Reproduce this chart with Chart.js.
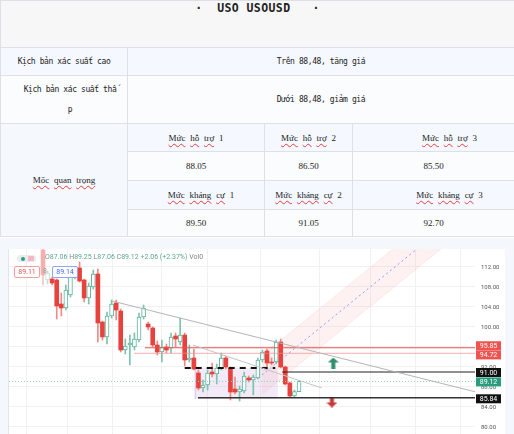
<!DOCTYPE html>
<html>
<head>
<meta charset="utf-8">
<script src="https://cdn.jsdelivr.net/npm/chart.js@4.4.1/dist/chart.umd.min.js"></script>
<style>
  html, body { margin: 0; padding: 0; width: 514px; height: 434px; overflow: hidden; background: #fff; }
  table.info { position: absolute; left: 0; top: 0; width: 514px; border-collapse: collapse; table-layout: fixed; }
  table.info td { border: 1px solid #dde1e6; padding: 0; text-align: center; color: #222; }
  .mono { font-family: "DejaVu Sans Mono", monospace; font-size: 8px; letter-spacing: -0.4px; }
  .serif { font-family: "Liberation Serif", serif; font-size: 9px; word-spacing: 2.5px; color: #333; }
  td.title { background: #f7f7f7; height: 46px; vertical-align: top; padding-top: 9px; font-family: "DejaVu Sans Mono", monospace; font-weight: bold; font-size: 11.5px; letter-spacing: 0.4px; white-space: pre; border-top: 2px solid #e6e6e6; }
  tr.blue td { background: #f5f9ff; }
  tr.pale td { background: #fbfcfe; }
  .sq { text-decoration: underline wavy #e03b3b; text-decoration-thickness: 1px; text-underline-offset: 2px; }
  #frame { position: absolute; left: 0; top: 238px; width: 514px; height: 196px; background: #f4f8fc; }
  #panel { position: absolute; left: 8px; top: 249px; width: 496px; height: 185px; background: #fff; border-left: 1px solid #e3e7ec; }
  #wrap { position: absolute; left: 9px; top: 249px; width: 495px; height: 185px; }
  .ov { position: absolute; font-family: Roboto, sans-serif; font-size: 7px; white-space: pre; }
  .pbox { position: absolute; height: 10px; line-height: 10px; font-family: Roboto, sans-serif; font-size: 7px; text-align: center; background: rgba(255,255,255,0.85); border-radius: 2px; }
</style>
</head>
<body>
<table class="info">
  <colgroup><col style="width:127px"><col style="width:137px"><col style="width:88px"><col style="width:162px"></colgroup>
  <tr><td colspan="4" class="title">·  USO USOUSD   ·</td></tr>
  <tr class="blue" style="height:28px"><td class="mono">Kịch bản xác suất cao</td><td colspan="3" class="mono">Trên 88,48, tăng giá</td></tr>
  <tr class="pale" style="height:48px"><td class="mono" style="line-height:20px;padding-left:12px">Kịch bản xác suất thấ<br>p</td><td colspan="3" class="mono">Dưới 88,48, giảm giá</td></tr>
  <tr class="blue" style="height:28px">
    <td rowspan="4" class="serif" style="background:#f5f9fe"><span class="sq">Mốc</span> <span class="sq">quan</span> <span class="sq">trọng</span></td>
    <td class="serif"><span class="sq">Mức</span> <span class="sq">hỗ</span> <span class="sq">trợ</span> 1</td>
    <td class="serif"><span class="sq">Mức</span> <span class="sq">hỗ</span> <span class="sq">trợ</span> 2</td>
    <td class="serif" style="padding-left:32px"><span class="sq">Mức</span> <span class="sq">hỗ</span> <span class="sq">trợ</span> 3</td>
  </tr>
  <tr class="pale" style="height:29px"><td class="serif">88.05</td><td class="serif">86.50</td><td class="serif">85.50</td></tr>
  <tr class="blue" style="height:29px">
    <td class="serif" style="padding-left:10px"><span class="sq">Mức</span> <span class="sq">kháng</span> <span class="sq">cự</span> 1</td>
    <td class="serif"><span class="sq">Mức</span> <span class="sq">kháng</span> <span class="sq">cự</span> 2</td>
    <td class="serif" style="padding-left:32px"><span class="sq">Mức</span> <span class="sq">kháng</span> <span class="sq">cự</span> 3</td>
  </tr>
  <tr class="pale" style="height:27px"><td class="serif">89.50</td><td class="serif">91.05</td><td class="serif">92.70</td></tr>
</table>

<div id="frame"></div>
<div id="panel"></div>
<div id="wrap"><canvas id="grafico"></canvas></div>

<!-- leyenda superior -->
<div class="ov" style="left:17px;top:255px;width:19px;height:7px;background:#e9ecef;border-radius:4px"></div>
<div class="ov" style="left:21px;top:257px;width:4px;height:4px;background:#2a9d7f;border-radius:2px"></div>
<div class="ov" style="left:28px;top:256px;width:6px;height:5px;background:#f5b8c4;border-radius:1px"></div>
<div class="ov" style="left:45px;top:253px;color:#5aa893"><span style="color:#7d8c88">O</span>87.06 <span style="color:#7d8c88">H</span>89.25 <span style="color:#7d8c88">L</span>87.06 <span style="color:#7d8c88">C</span>89.12 +2.06 (+2.37%) <span style="color:#888">Vol0</span></div>
<div class="pbox" style="left:14px;top:266px;width:24px;border:1px solid #f0a0a0;color:#e05555">89.11</div>
<div class="ov" style="left:43px;top:267px;color:#999">8</div>
<div class="pbox" style="left:52px;top:266px;width:24px;border:1px solid #8fa4f5;color:#4a68e8">89.14</div>

<script>
// velas (índice 0..56)
const opens  = [115.4,109.4,109.6,109.4,104.6,103.8,106.4,110.0,111.8,109.4,105.8,108.0,110.6,101.0,98.0,102.2,104.8,103.2,95.4,96.4,96.0,97.4,102.0,100.6,99.8,96.4,95.0,96.0,95.8,98.2,97.0,98.4,93.4,93.8,90.8,87.8,88.4,91.0,90.6,91.8,93.8,91.8,87.6,87.0,87.2,89.8,89.4,89.8,93.4,95.2,93.0,93.0,97.0,92.0,88.8,86.2,87.06];
const highs  = [115.8,111.2,110.0,109.6,106.8,108.4,110.4,112.0,113.0,109.6,108.8,111.4,111.6,101.2,103.0,105.4,105.4,103.6,97.6,98.4,98.8,102.8,104.4,101.0,100.0,97.2,97.4,96.6,98.8,98.8,101.8,98.8,96.4,95.6,91.4,89.4,91.4,92.8,92.6,94.8,94.2,92.0,90.0,88.2,91.0,90.2,90.4,93.8,95.4,95.6,93.8,97.4,97.6,92.2,89.0,87.4,89.25];
const lows   = [108.4,108.6,108.4,101.6,102.2,103.4,106.0,109.6,109.0,105.0,104.6,107.6,97.0,97.4,96.6,101.8,101.4,95.0,94.6,92.4,95.4,97.0,101.6,99.4,96.0,94.4,93.0,94.8,94.8,96.0,96.4,92.2,93.0,91.4,87.4,87.0,87.4,90.0,88.6,91.4,91.6,85.4,86.6,85.2,86.8,89.0,86.4,89.6,93.0,92.0,92.4,92.6,91.8,88.4,86.0,86.0,87.06];
const closes = [110.4,110.8,108.8,104.2,103.8,107.4,110.0,111.4,109.2,105.8,108.2,110.6,100.8,98.0,102.2,104.6,103.4,95.4,96.2,96.8,97.6,102.0,103.8,100.0,96.4,95.0,96.0,95.4,98.0,97.6,98.4,93.4,93.8,91.6,87.8,88.4,90.8,90.6,91.8,93.8,92.0,87.0,87.0,87.6,90.2,89.4,90.0,93.4,95.0,92.8,92.8,97.0,92.0,88.6,86.2,87.06,89.12];

const yTicks = [80, 84, 88, 92, 96, 100, 104, 108, 112];
const xGrid = [0.9, 9.8, 20.8, 31.1, 40.9, 54.3, 66.5, 76.6, 86.4];

// niveles horizontales: precio e índice donde empiezan
const levelPrices = [95.85, 94.72, 91.00, 85.84];
const levelStarts = [22.3, 19.9, 52.3, 33.9];
const lastPrice = 89.12;
const dashedLevel = [91.8, 31.0, 50.8];       // precio, desde, hasta
const trend1 = [[15.1, 105.2], [94.5, 87.05]];
const trend2 = [[32.8, 96.4], [61.0, 87.8]];
const channelMid = [[47.9, 90.4], [95, 125.4]];
const channelHalf = 3.9;
const zone = [33.3, 51.4, 85.6, 91.8];        // x0, x1, yLow, yHigh
const arrowUp = [63.5, 92.8];
const arrowDown = [63.2, 85.0];

// etiquetas del eje de precios
const axisLabels = ['95.85', '94.72', '91.00', '89.12', '85.84'];
const axisColors = ['#ef5350', '#ef5350', '#111111', '#2a9d7f', '#111111'];

const X_MIN = -7.44, X_MAX = 94.5;
const UP = '#5db39b', DOWN = '#e8423f';

const idx = opens.map((_, i) => i);
const isUp = i => closes[i] >= opens[i];

function flecha(color, up) {
  const c = document.createElement('canvas');
  c.width = 11; c.height = 11;
  const g = c.getContext('2d');
  g.fillStyle = color;
  g.beginPath();
  if (up) {
    g.moveTo(5.5, 0); g.lineTo(11, 5); g.lineTo(7.5, 5); g.lineTo(7.5, 11); g.lineTo(3.5, 11); g.lineTo(3.5, 5); g.lineTo(0, 5);
  } else {
    g.moveTo(3.5, 0); g.lineTo(7.5, 0); g.lineTo(7.5, 6); g.lineTo(11, 6); g.lineTo(5.5, 11); g.lineTo(0, 6); g.lineTo(3.5, 6);
  }
  g.closePath();
  g.fill();
  return c;
}

const seg = (pts) => pts.map(p => ({ x: p[0], y: p[1] }));
const lineDs = (data, color, width, dash, order) => ({
  type: 'line', data, borderColor: color, borderWidth: width, borderDash: dash || [],
  pointRadius: 0, fill: false, order: order, tension: 0
});

const datasets = [
  // zona lila
  lineDs([{ x: zone[0], y: zone[3] }, { x: zone[1], y: zone[3] }], 'rgba(0,0,0,0)', 0, null, 10),
  Object.assign(lineDs([{ x: zone[0], y: zone[2] }, { x: zone[1], y: zone[2] }], 'rgba(0,0,0,0)', 0, null, 10),
    { fill: '-1', backgroundColor: 'rgba(200,160,220,0.22)' }),
  lineDs([{ x: zone[0], y: zone[2] }, { x: zone[0], y: zone[3] }], 'rgba(190,150,215,0.6)', 1, null, 10),
  // canal rosa
  lineDs(channelMid.map(p => ({ x: p[0], y: p[1] + channelHalf })), 'rgba(240,150,150,0.15)', 1, null, 9),
  Object.assign(lineDs(channelMid.map(p => ({ x: p[0], y: p[1] - channelHalf })), 'rgba(240,150,150,0.15)', 1, null, 9),
    { fill: '-1', backgroundColor: 'rgba(245,170,170,0.16)' }),
  lineDs(seg(channelMid), '#8e9cf2', 1, [2, 3], 3),
  // mechas y cuerpos
  {
    type: 'bar', grouped: false, order: 2, barThickness: 1,
    data: idx.map(i => ({ x: i, y: [lows[i], highs[i]] })),
    backgroundColor: idx.map(i => isUp(i) ? (i < 2 ? '#bfe0d6' : '#7cc3ae') : (i < 2 ? '#f6c4c4' : '#f08a88'))
  },
  {
    type: 'bar', grouped: false, order: 1, barThickness: 4, minBarLength: 1, borderSkipped: false,
    data: idx.map(i => ({ x: i, y: [opens[i], closes[i]] })),
    backgroundColor: idx.map(i => isUp(i) ? '#ffffff' : (i < 2 ? '#f4b0b0' : DOWN)),
    borderColor: idx.map(i => isUp(i) ? (i < 2 ? '#bfe0d6' : UP) : (i < 2 ? '#f4b0b0' : DOWN)),
    borderWidth: idx.map(i => isUp(i) ? 1 : 0)
  },
  // líneas de tendencia
  lineDs(seg(trend1), '#b5b5b5', 1, null, 0),
  lineDs(seg(trend2), '#c4c4c4', 1, null, 0),
  // niveles
  lineDs([{ x: levelStarts[0], y: levelPrices[0] }, { x: X_MAX, y: levelPrices[0] }], '#ea5050', 1.2, null, 0),
  lineDs([{ x: levelStarts[1], y: levelPrices[1] }, { x: X_MAX, y: levelPrices[1] }], 'rgba(240,140,140,0.55)', 1.2, null, 0),
  lineDs([{ x: levelStarts[2], y: levelPrices[2] }, { x: X_MAX, y: levelPrices[2] }], '#222', 1.2, null, 0),
  lineDs([{ x: levelStarts[3], y: levelPrices[3] }, { x: X_MAX, y: levelPrices[3] }], '#333', 1.5, null, 0),
  lineDs([{ x: dashedLevel[1], y: dashedLevel[0] }, { x: dashedLevel[2], y: dashedLevel[0] }], '#111', 2, [6, 5], 0),
  lineDs([{ x: X_MIN, y: lastPrice }, { x: X_MAX, y: lastPrice }], '#8fd0bf', 1, [1, 2], 0),
  // flechas
  {
    type: 'scatter', order: 0,
    data: [{ x: arrowUp[0], y: arrowUp[1] }, { x: arrowDown[0], y: arrowDown[1] }],
    pointStyle: [flecha('#2f8f6e', true), flecha('#c8383a', false)],
    pointRadius: 5
  }
];

const etiquetasPrecio = {
  id: 'etiquetasPrecio',
  afterDraw(chart) {
    const ctx = chart.ctx;
    const y = chart.scales.y;
    const left = chart.chartArea.right + 1;
    const nudge = [-2, 1.5, 0.5, 0.5, 1];
    ctx.save();
    ctx.font = '7px Roboto, sans-serif';
    ctx.textAlign = 'center';
    ctx.textBaseline = 'middle';
    axisLabels.forEach((t, k) => {
      const py = y.getPixelForValue(parseFloat(t)) + nudge[k];
      ctx.fillStyle = axisColors[k];
      ctx.fillRect(left, py - 4.5, 25, 9);
      ctx.fillStyle = '#fff';
      ctx.fillText(t, left + 12.5, py + 0.5);
    });
    ctx.restore();
  }
};

const sinRelleno = s => { s.paddingTop = 0; s.paddingBottom = 0; s.paddingLeft = 0; s.paddingRight = 0; };

new Chart(document.getElementById('grafico'), {
  type: 'bar',
  data: { datasets },
  options: {
    responsive: true,
    maintainAspectRatio: false,
    animation: false,
    layout: { padding: 0, autoPadding: false },
    plugins: { legend: { display: false }, tooltip: { enabled: false } },
    scales: {
      x: {
        type: 'linear', min: X_MIN, max: X_MAX, offset: false,
        afterBuildTicks: s => { s.ticks = xGrid.map(v => ({ value: v })); },
        afterFit: s => { s.height = 0; sinRelleno(s); },
        ticks: { display: false },
        grid: { color: '#f1f1f1', drawTicks: false },
        border: { display: false }
      },
      y: {
        position: 'right', min: 78.6, max: 115.6,
        afterBuildTicks: s => { s.ticks = yTicks.map(v => ({ value: v })); },
        afterFit: s => { s.width = 29; sinRelleno(s); },
        ticks: { callback: v => v.toFixed(2), color: '#555', font: { family: 'Roboto', size: 6 }, padding: 6, autoSkip: false },
        grid: { color: '#f1f1f1', drawTicks: false },
        border: { display: false }
      }
    }
  },
  plugins: [etiquetasPrecio]
});
</script>
</body>
</html>
